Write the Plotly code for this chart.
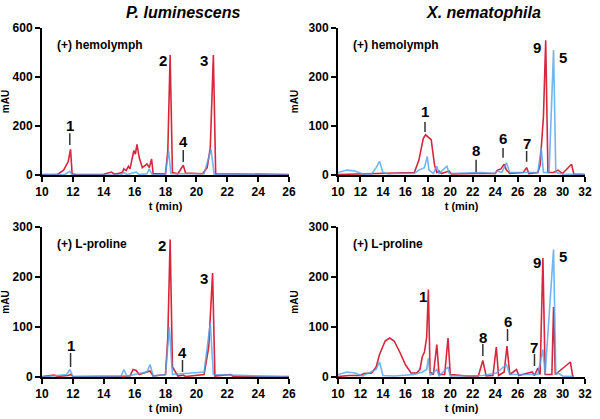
import plotly.graph_objects as go

# ---------------- data ----------------
# P. luminescens, (+) hemolymph
pl_hemo_red_t = [10, 10.8, 11.0, 11.4, 11.7, 11.85, 11.95, 12.2, 14.0, 14.5, 14.7, 15.2, 15.3, 15.45, 15.6, 15.7, 15.95, 16.05, 16.15, 16.3, 16.5, 16.8, 16.95, 17.1, 17.2, 18.0, 18.15, 18.3, 18.45, 18.8, 19.15, 19.3, 20.4, 20.7, 20.9, 21.1, 21.25, 26]
pl_hemo_red_y = [2, 4, 2, 20, 55, 105, 5, 2, 3, 12, 3, 10, 25, 18, 35, 25, 100, 85, 125, 70, 30, 45, 30, 65, 5, 5, 100, 490, 10, 5, 40, 8, 5, 30, 110, 490, 5, 2]
pl_hemo_blue_t = [10, 11.5, 11.8, 11.95, 15.1, 15.3, 15.5, 15.9, 16.1, 16.3, 16.8, 16.95, 17.15, 18.0, 18.2, 18.35, 20.5, 20.95, 21.15, 26]
pl_hemo_blue_y = [0, 3, 15, 0, 0, 10, 2, 8, 12, 2, 5, 25, 0, 3, 100, 5, 5, 105, 3, 0]

# X. nematophila, (+) hemolymph
xn_hemo_red_t = [10, 16.8, 17.2, 17.6, 17.8, 18.1, 18.3, 18.6, 18.8, 19.0, 19.2, 19.9, 20.1, 22.2, 24.0, 24.2, 24.5, 24.8, 25.0, 25.3, 26.5, 26.8, 27.0, 27.8, 28.0, 28.3, 28.5, 28.7, 29.2, 29.6, 30.0, 30.8, 31.0, 32]
xn_hemo_red_y = [1, 5, 30, 75, 82, 75, 72, 20, 5, 8, 3, 8, 2, 3, 3, 10, 12, 22, 10, 3, 5, 15, 3, 5, 20, 120, 275, 5, 5, 10, 3, 22, 2, 1]
xn_hemo_blue_t = [10, 10.8, 11.5, 12.2, 13.0, 13.4, 13.7, 14.0, 14.5, 15.0, 16.8, 17.2, 17.7, 17.95, 18.1, 18.5, 18.8, 19.0, 19.7, 19.9, 22.8, 24.0, 24.2, 24.6, 25.0, 25.3, 26.0, 27.8, 28.1, 28.3, 28.8, 29.2, 29.4, 30.0, 32]
xn_hemo_blue_y = [5, 10, 8, 2, 2, 15, 28, 5, 2, 3, 3, 10, 15, 38, 10, 3, 18, 3, 18, 3, 5, 3, 8, 5, 25, 5, 5, 5, 55, 5, 5, 255, 5, 2, 1]

# P. luminescens, (+) L-proline
pl_pro_red_t = [10, 10.8, 11.0, 11.7, 11.85, 12.0, 15.7, 15.9, 16.1, 16.3, 16.6, 16.8, 17.0, 17.2, 18.0, 18.15, 18.3, 18.45, 18.6, 18.8, 19.15, 19.3, 20.5, 20.8, 21.05, 21.2, 22.2, 22.4, 26]
pl_pro_red_y = [1, 4, 1, 3, 5, 1, 2, 15, 13, 5, 8, 10, 12, 2, 5, 80, 275, 20, 12, 2, 4, 1, 5, 60, 208, 2, 5, 1, 1]
pl_pro_blue_t = [10, 11.6, 11.8, 12.0, 15.1, 15.3, 15.5, 16.8, 17.0, 17.2, 18.0, 18.25, 18.45, 20.5, 20.9, 21.1, 26]
pl_pro_blue_y = [0, 5, 15, 1, 0, 15, 2, 10, 25, 2, 5, 100, 5, 10, 108, 5, 0]

# X. nematophila, (+) L-proline
xn_pro_red_t = [10, 11.0, 12.0, 12.3, 13.0, 13.4, 13.7, 14.2, 14.6, 15.0, 15.5, 16.0, 16.5, 17.0, 17.3, 17.5, 17.7, 17.9, 18.05, 18.2, 18.5, 18.8, 19.0, 19.5, 19.8, 20.0, 21.5, 22.5, 22.9, 23.2, 23.8, 24.1, 24.3, 24.8, 25.05, 25.3, 25.9, 26.1, 27.3, 27.5, 27.8, 28.0, 28.25, 28.45, 29.05, 29.2, 29.35, 30.7, 30.9, 31.0]
xn_pro_red_y = [1, 3, 3, 7, 8, 20, 45, 72, 78, 72, 50, 25, 8, 8, 15, 40, 50, 80, 175, 10, 5, 65, 5, 5, 78, 5, 2, 2, 33, 2, 3, 60, 3, 10, 62, 5, 15, 3, 10, 3, 18, 5, 238, 5, 5, 140, 5, 30, 2, 1]
xn_pro_blue_t = [10, 10.8, 11.5, 12.2, 13.4, 13.7, 14.0, 15.0, 16.8, 17.5, 17.9, 18.05, 18.2, 18.8, 19.0, 19.8, 20.0, 22.9, 24.1, 25.0, 25.3, 27.8, 28.25, 28.45, 29.2, 29.4, 29.6, 30.0, 31.0]
xn_pro_blue_y = [5, 10, 8, 2, 15, 30, 3, 2, 5, 10, 15, 38, 3, 15, 2, 20, 2, 3, 8, 25, 5, 5, 55, 5, 255, 5, 8, 2, 1]

# peak labels: (text, x, y, tick_y0, tick_y1)
pl_hemo_labels = [("1", 11.8, 204, 122, 170), ("2", 17.85, 469, None, None), ("3", 20.5, 469, None, None), ("4", 19.15, 135, 53, 102)]
xn_hemo_labels = [("1", 17.75, 129, 88, 108), ("8", 22.3, 49, 6, 31), ("6", 24.7, 75, 35, 55), ("7", 26.8, 65, 27, 49), ("9", 27.7, 261, None, None), ("5", 30.0, 240, None, None)]
pl_pro_labels = [("1", 11.85, 64, 20, 48), ("2", 17.8, 264, None, None), ("3", 20.5, 198, None, None), ("4", 19.1, 50, 10, 34)]
xn_pro_labels = [("1", 17.6, 162, None, None), ("8", 22.9, 80, 42, 66), ("6", 25.1, 112, 72, 96), ("7", 27.5, 60, 22, 46), ("9", 27.7, 230, None, None), ("5", 30.0, 242, None, None)]

titles = ["<i>P. luminescens</i>", "<i>X. nematophila</i>"]
conditions = ["(+) hemolymph", "(+) L-proline"]

# ---------------- figure ----------------
RED = "#d7263d"
BLUE = "#4fa3ec"
FONT = "Liberation Sans"
W, H = 600, 419

fig = go.Figure()

panels = [
    ("", pl_hemo_red_t, pl_hemo_red_y, pl_hemo_blue_t, pl_hemo_blue_y, pl_hemo_labels, [10, 26], list(range(10, 27, 2)), [0, 600], [0, 200, 400, 600]),
    ("2", xn_hemo_red_t, xn_hemo_red_y, xn_hemo_blue_t, xn_hemo_blue_y, xn_hemo_labels, [10, 32], list(range(10, 33, 2)), [0, 300], [0, 100, 200, 300]),
    ("3", pl_pro_red_t, pl_pro_red_y, pl_pro_blue_t, pl_pro_blue_y, pl_pro_labels, [10, 26], list(range(10, 27, 2)), [0, 300], [0, 100, 200, 300]),
    ("4", xn_pro_red_t, xn_pro_red_y, xn_pro_blue_t, xn_pro_blue_y, xn_pro_labels, [10, 32], list(range(10, 33, 2)), [0, 300], [0, 100, 200, 300]),
]

xdom_left = [42 / W, 289 / W]
xdom_right = [338 / W, 585 / W]
ydom_top = [1 - 175 / H, 1 - 28 / H]
ydom_bot = [1 - 377 / H, 1 - 227 / H]
doms = [(xdom_left, ydom_top), (xdom_right, ydom_top), (xdom_left, ydom_bot), (xdom_right, ydom_bot)]

annotations = []
shapes = []
layout_axes = {}
for i, (sfx, rt, ry, bt, by, labels, xr, xt, yr, yt) in enumerate(panels):
    xa = "x" + sfx
    ya = "y" + sfx
    fig.add_trace(go.Scatter(x=rt, y=ry, mode="lines", line=dict(color=RED, width=1.6),
                             xaxis=xa, yaxis=ya, showlegend=False))
    fig.add_trace(go.Scatter(x=bt, y=by, mode="lines", line=dict(color=BLUE, width=1.6),
                             opacity=0.8, xaxis=xa, yaxis=ya, showlegend=False))
    xd, yd = doms[i]
    common = dict(showline=True, linecolor="black", linewidth=2, ticks="outside",
                  ticklen=5, tickwidth=2, tickcolor="black", showgrid=False, zeroline=False,
                  automargin=False,
                  tickfont=dict(family=FONT, size=12, color="black", weight="bold"))
    layout_axes["xaxis" + sfx] = dict(common, domain=xd, range=xr, tickvals=xt, anchor=ya,
                                      title=dict(text="<b>t (min)</b>", standoff=4,
                                                 font=dict(family=FONT, size=11, color="black")))
    layout_axes["yaxis" + sfx] = dict(common, domain=yd, range=yr, tickvals=yt, anchor=xa,
                                      title=dict(text="<b>mAU</b>", standoff=8,
                                                 font=dict(family=FONT, size=10, color="black")))
    for (txt, lx, ly, t0, t1) in labels:
        annotations.append(dict(x=lx, y=ly, xref=xa, yref=ya, text="<b>" + txt + "</b>",
                                showarrow=False, font=dict(family=FONT, size=15, color="black")))
        if t0 is not None:
            shapes.append(dict(type="line", xref=xa, yref=ya, x0=lx, x1=lx, y0=t0, y1=t1,
                               line=dict(color="#333333", width=1.5)))
    annotations.append(dict(x=(xd[0] + 13 / W), y=1 - (45 if i < 2 else 244) / H, xref="paper", yref="paper",
                            xanchor="left", yanchor="middle", text="<b>" + conditions[i // 2] + "</b>",
                            showarrow=False, font=dict(family=FONT, size=12, color="black")))

for j, t in enumerate(titles):
    annotations.append(dict(x=(183 if j == 0 else 483) / W, y=1 - 12 / H, xref="paper", yref="paper",
                            xanchor="center", yanchor="middle", text="<b>" + t + "</b>", showarrow=False,
                            font=dict(family=FONT, size=16, color="black")))

fig.update_layout(width=W, height=H, margin=dict(l=0, r=0, t=0, b=0),
                  plot_bgcolor="white", paper_bgcolor="white",
                  annotations=annotations, shapes=shapes, **layout_axes)

fig.write_html("out.html", config={"displayModeBar": False},
               post_script="document.body.style.margin='0';document.body.style.overflow='hidden';")
